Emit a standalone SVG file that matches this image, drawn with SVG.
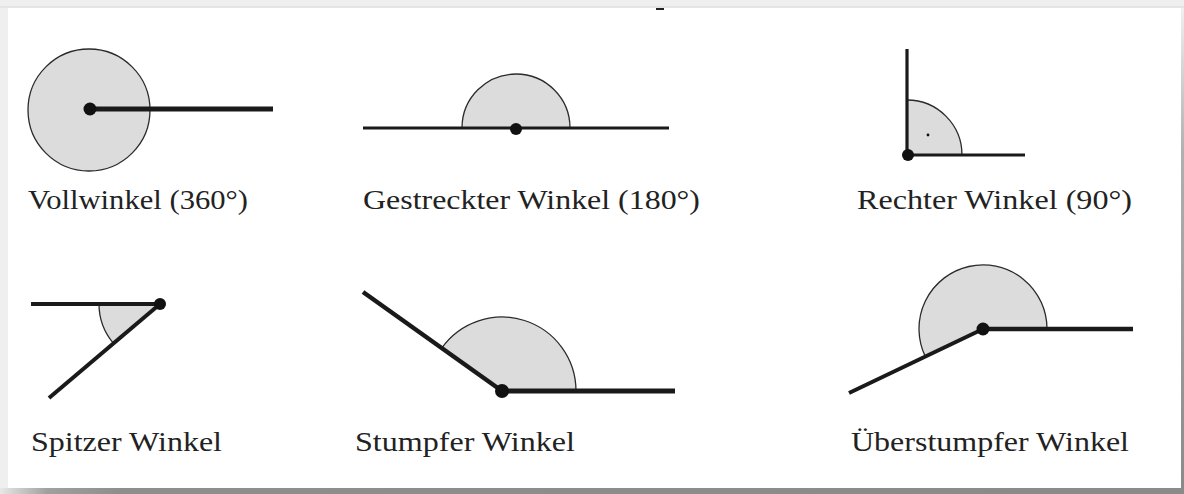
<svg xmlns="http://www.w3.org/2000/svg" width="1184" height="494" viewBox="0 0 1184 494">
  <defs>
    <linearGradient id="gRight" x1="0" y1="0" x2="0" y2="1">
      <stop offset="0" stop-color="#f0f0f0"/>
      <stop offset="0.3" stop-color="#b0b0b0"/>
      <stop offset="1" stop-color="#8a8a8a"/>
    </linearGradient>
    <linearGradient id="gBottom" x1="0" y1="0" x2="1" y2="0">
      <stop offset="0" stop-color="#e8e8e8"/>
      <stop offset="0.04" stop-color="#a0a0a0"/>
      <stop offset="0.1" stop-color="#8e8e8e"/>
      <stop offset="1" stop-color="#8a8a8a"/>
    </linearGradient>
    <style>
      .wedge { fill: #dcdcdc; stroke: none; }
      .arc { fill: none; stroke: #2a2a2a; stroke-width: 1.3; }
      .ray { stroke: #1a1a1a; stroke-linecap: butt; fill: none; }
      .dot { fill: #111111; }
      .lbl { font-size: 28px; fill: #222222; }
    </style>
  </defs>

  <!-- frame -->
  <rect x="0" y="0" width="1184" height="494" fill="#efefef"/>
  <rect x="0" y="6" width="1184" height="2" fill="#e4e4e4"/>
  <rect x="8" y="8" width="1173" height="480" fill="#ffffff"/>
  <rect x="1181" y="8" width="3" height="480" fill="url(#gRight)"/>
  <rect x="0" y="488" width="1184" height="6" fill="url(#gBottom)"/>
  <rect x="656" y="8" width="8" height="2" fill="#222222"/>

  <g id="vollwinkel">
    <circle cx="89" cy="110" r="61" class="wedge"/>
    <circle cx="89" cy="110" r="61" class="arc"/>
    <line x1="90" y1="109" x2="273" y2="109" class="ray" stroke-width="5"/>
    <circle cx="90" cy="109" r="6.5" class="dot"/>
    <text x="28" y="209" class="lbl" font-family="Liberation Serif, Times New Roman, serif" textLength="220" lengthAdjust="spacingAndGlyphs">Vollwinkel (360°)</text>
  </g>

  <g id="gestreckter">
    <path d="M462,128 A54,54 0 0,1 570,128 Z" class="wedge"/>
    <path d="M462,128 A54,54 0 0,1 570,128" class="arc"/>
    <line x1="363" y1="128" x2="669" y2="128" class="ray" stroke-width="3.2"/>
    <circle cx="516" cy="129" r="6" class="dot"/>
    <text x="363" y="209" class="lbl" font-family="Liberation Serif, Times New Roman, serif" textLength="337" lengthAdjust="spacingAndGlyphs">Gestreckter Winkel (180°)</text>
  </g>

  <g id="rechter">
    <path d="M907,155 L962,155 A55,55 0 0,0 907,100 Z" class="wedge"/>
    <path d="M962,155 A55,55 0 0,0 907,100" class="arc"/>
    <line x1="907" y1="49" x2="907" y2="155" class="ray" stroke-width="3.2"/>
    <line x1="907" y1="155" x2="1025" y2="155" class="ray" stroke-width="3.2"/>
    <circle cx="928" cy="135" r="1.4" class="dot"/>
    <circle cx="908" cy="155" r="6" class="dot"/>
    <text x="857" y="209" class="lbl" font-family="Liberation Serif, Times New Roman, serif" textLength="275" lengthAdjust="spacingAndGlyphs">Rechter Winkel (90°)</text>
  </g>

  <g id="spitzer">
    <path d="M160,304 L99,304 A61,61 0 0,0 113.5,343.4 Z" class="wedge"/>
    <path d="M99,304 A61,61 0 0,0 113.5,343.4" class="arc"/>
    <line x1="31" y1="304" x2="160" y2="304" class="ray" stroke-width="4"/>
    <line x1="160" y1="304" x2="49" y2="398" class="ray" stroke-width="4"/>
    <circle cx="160" cy="304" r="6" class="dot"/>
    <text x="31" y="451" class="lbl" font-family="Liberation Serif, Times New Roman, serif" textLength="191" lengthAdjust="spacingAndGlyphs">Spitzer Winkel</text>
  </g>

  <g id="stumpfer">
    <path d="M502,391 L576,391 A74,74 0 0,0 441.7,348.1 Z" class="wedge"/>
    <path d="M576,391 A74,74 0 0,0 441.7,348.1" class="arc"/>
    <line x1="502" y1="391" x2="675" y2="391" class="ray" stroke-width="5"/>
    <line x1="502" y1="391" x2="363" y2="292" class="ray" stroke-width="4.5"/>
    <circle cx="502" cy="391" r="7" class="dot"/>
    <text x="355" y="451" class="lbl" font-family="Liberation Serif, Times New Roman, serif" textLength="220" lengthAdjust="spacingAndGlyphs">Stumpfer Winkel</text>
  </g>

  <g id="ueberstumpfer">
    <path d="M983,329 L1047,329 A64,64 0 1,0 925.3,356.6 Z" class="wedge"/>
    <path d="M1047,329 A64,64 0 1,0 925.3,356.6" class="arc"/>
    <line x1="983" y1="329" x2="1133" y2="329" class="ray" stroke-width="4.5"/>
    <line x1="983" y1="329" x2="849" y2="393" class="ray" stroke-width="4"/>
    <circle cx="983" cy="329" r="6.5" class="dot"/>
    <text x="851" y="451" class="lbl" font-family="Liberation Serif, Times New Roman, serif" textLength="278" lengthAdjust="spacingAndGlyphs">Überstumpfer Winkel</text>
  </g>
</svg>
